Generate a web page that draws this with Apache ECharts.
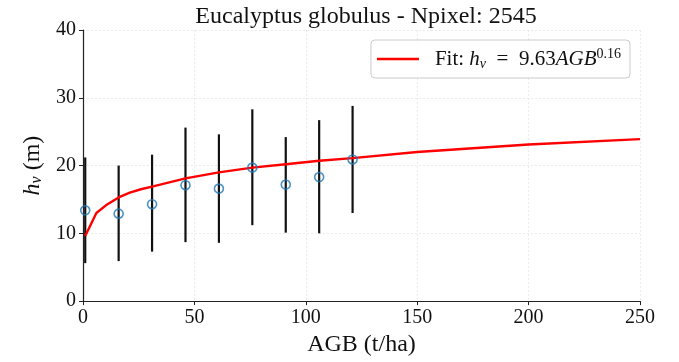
<!DOCTYPE html>
<html>
<head>
<meta charset="utf-8">
<script src="https://cdn.jsdelivr.net/npm/echarts@6/dist/echarts.min.js"></script>
<style>
  html, body { margin: 0; padding: 0; background: #fff; }
  #chart { width: 679px; height: 362px; }
</style>
</head>
<body>
<div id="chart"></div>
<script>
// Binned mean canopy height per AGB class, with min/max spread
const binAGB   = [1, 16, 31, 46, 61, 76, 91, 106, 121];
const binMean  = [13.4, 12.9, 14.3, 17.1, 16.6, 19.7, 17.2, 18.3, 20.9];
const binLow   = [5.6, 5.9, 7.3, 8.7, 8.6, 11.2, 10.1, 10.0, 13.0];
const binHigh  = [21.2, 20.0, 21.6, 25.6, 24.6, 28.3, 24.2, 26.7, 28.8];

// Fitted power-law curve, sampled along AGB
const fitAGB = [1, 6, 11, 16, 21, 26, 31, 46, 61, 76, 91, 106, 121, 150, 200, 250];
const fitH   = [9.6, 13.0, 14.3, 15.3, 16.0, 16.5, 16.9, 18.1, 19.0, 19.7, 20.2, 20.7, 21.1, 22.0, 23.1, 23.9];

const xTicks = [0, 50, 100, 150, 200, 250];
const yTicks = [0, 10, 20, 30, 40];

const FONT = 'Liberation Serif';

const chart = echarts.init(document.getElementById('chart'), null, { renderer: 'canvas' });

const gridLine = { show: true, lineStyle: { color: '#e6e6e6', type: [2, 2], width: 0.8 } };
const axisLine = { show: true, lineStyle: { color: '#222', width: 1.2 } };
const axisTick = { show: true, inside: false, length: 4, lineStyle: { color: '#222', width: 1 } };

chart.setOption({
  animation: false,
  backgroundColor: '#fff',
  title: {
    text: 'Eucalyptus globulus - Npixel: 2545',
    left: 361,
    textAlign: 'center',
    top: 0,
    textStyle: { fontFamily: FONT, fontSize: 24, fontWeight: 'normal', color: '#111' }
  },
  grid: { left: 83, right: 39, top: 30, bottom: 59 },
  legend: {
    data: ['Fit'],
    right: 49,
    top: 40,
    orient: 'horizontal',
    icon: 'rect',
    itemWidth: 42,
    itemHeight: 2.5,
    itemGap: 10,
    padding: [7, 9, 7, 6],
    borderColor: '#cccccc',
    borderWidth: 1,
    borderRadius: 4,
    backgroundColor: 'rgba(255,255,255,0.8)',
    formatter: function () {
      return 'Fit: {i|h}{sub|v}  =  9.63{i|AGB}{sup|0.16}';
    },
    textStyle: {
      fontFamily: FONT, fontSize: 21, color: '#111', padding: [0, 0, 0, 11],
      rich: {
        i: { fontFamily: FONT, fontSize: 21, fontStyle: 'italic', color: '#111' },
        sub: { fontFamily: FONT, fontSize: 14, fontStyle: 'italic', color: '#111', verticalAlign: 'bottom', padding: [10, 0, 0, 0] },
        sup: { fontFamily: FONT, fontSize: 14, color: '#111', verticalAlign: 'top', padding: [0, 0, 9, 0] }
      }
    }
  },
  xAxis: {
    type: 'value',
    min: 0, max: 250, interval: 50,
    name: 'AGB (t/ha)',
    nameLocation: 'middle',
    nameGap: 31,
    nameTextStyle: { fontFamily: FONT, fontSize: 24, color: '#111' },
    axisLine: axisLine,
    axisTick: axisTick,
    axisLabel: {
      fontFamily: FONT, fontSize: 20, color: '#111', margin: 7,
      formatter: v => xTicks.includes(v) ? String(v) : ''
    },
    splitLine: gridLine
  },
  yAxis: {
    type: 'value',
    min: 0, max: 40, interval: 10,
    name: '{i|h}{sub|v} (m)',
    nameLocation: 'middle',
    nameGap: 33,
    nameRotate: 90,
    nameTextStyle: {
      fontFamily: FONT, fontSize: 24, color: '#111',
      rich: {
        i: { fontFamily: FONT, fontSize: 24, fontStyle: 'italic', color: '#111' },
        sub: { fontFamily: FONT, fontSize: 16, fontStyle: 'italic', color: '#111', verticalAlign: 'bottom', padding: [9, 0, 0, 0] }
      }
    },
    axisLine: axisLine,
    axisTick: axisTick,
    axisLabel: {
      fontFamily: FONT, fontSize: 20, color: '#111', margin: 7,
      formatter: v => yTicks.includes(v) ? String(v) : ''
    },
    splitLine: gridLine
  },
  series: [
    {
      name: 'Range',
      type: 'custom',
      z: 2,
      data: binAGB.map((x, i) => [x, binLow[i], binHigh[i]]),
      renderItem: function (params, api) {
        const lo = api.coord([api.value(0), api.value(1)]);
        const hi = api.coord([api.value(0), api.value(2)]);
        return {
          type: 'line',
          shape: { x1: lo[0], y1: lo[1], x2: hi[0], y2: hi[1] },
          style: { stroke: '#111', lineWidth: 2.2 }
        };
      },
      encode: { x: 0, y: [1, 2] }
    },
    {
      name: 'Fit',
      type: 'line',
      z: 3,
      data: fitAGB.map((x, i) => [x, fitH[i]]),
      showSymbol: false,
      smooth: false,
      lineStyle: { color: '#ff0000', width: 2.4 },
      itemStyle: { color: '#ff0000' }
    },
    {
      name: 'Mean',
      type: 'scatter',
      z: 4,
      data: binAGB.map((x, i) => [x, binMean[i]]),
      symbol: 'circle',
      symbolSize: 9,
      itemStyle: { color: 'rgba(255,255,255,0)', borderColor: '#1f77b4', borderWidth: 1.6 }
    }
  ]
});
</script>
</body>
</html>
